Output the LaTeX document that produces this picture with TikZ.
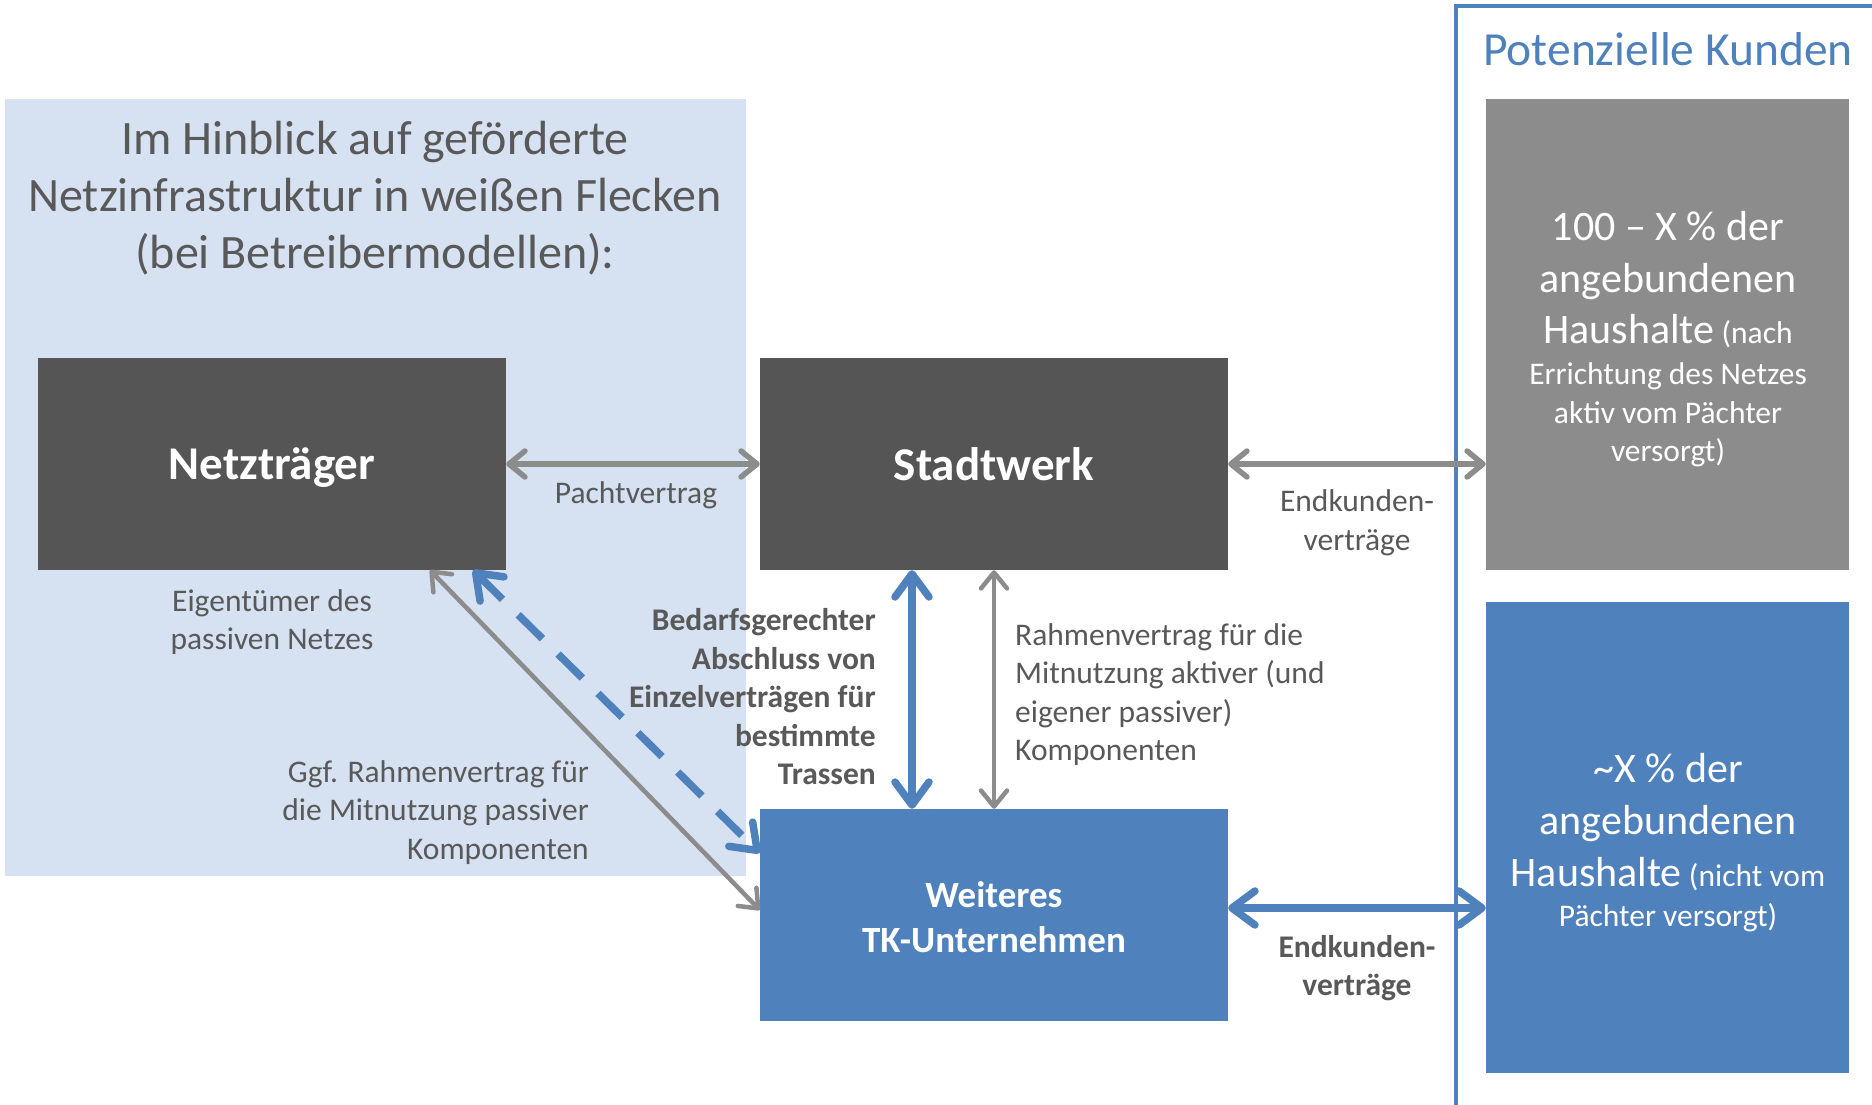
\documentclass[tikz,border=0pt]{standalone}
\usepackage{fontspec}
\setmainfont{Carlito}
\usetikzlibrary{arrows.meta}

\definecolor{panel}{HTML}{D6E1F1}
\definecolor{darkbox}{HTML}{555555}
\definecolor{greybox}{HTML}{8C8C8C}
\definecolor{accent}{HTML}{4F81BD}
\definecolor{txt}{HTML}{595959}
\definecolor{arrowgrey}{HTML}{8C8C8C}

\tikzset{
  box/.style={rectangle, inner sep=0pt, minimum width=468pt, minimum height=212pt,
    text=white, align=center},
  tallbox/.style={rectangle, inner sep=0pt, minimum width=363pt, minimum height=471pt},
  lbl/.style={inner sep=0pt, text=txt, font=\fontsize{31.5}{38.5}\selectfont},
  lblbold/.style={inner sep=0pt, text=txt, font=\bfseries\fontsize{31.5}{38.5}\selectfont},
  bigtext/.style={inner sep=0pt, text=white, align=center,
    font=\fontsize{31.5}{38.5}\selectfont},
  garrow/.style={arrowgrey, line width=5.5pt,
    >={Straight Barb[length=16pt,width=26pt,line cap=round,line join=round]}, <->},
  gthin/.style={garrow, line width=4.5pt},
  barrow/.style={accent, line width=7.5pt,
    >={Straight Barb[length=23pt,width=34pt,line cap=round,line join=round]}, <->},
}
\newcommand{\bigline}{\fontsize{42}{51}\selectfont}

\begin{document}
\lineskiplimit=-1000pt
\begin{tikzpicture}[x=1pt,y=-1pt]
\useasboundingbox (0,0) rectangle (1872,1105);
\fill[white] (0,0) rectangle (1872,1105);

% shaded area on the left
\node[fill=panel, inner sep=0pt, minimum width=741pt, minimum height=777pt] (panel) at (375.5,487.5) {};
\node[inner sep=0pt, text=txt, align=center, font=\fontsize{48}{57}\selectfont] (title) at (375,198.5)
  {Im Hinblick auf geförderte\\Netzinfrastruktur in weißen Flecken\\(bei Betreibermodellen):};

% customer frame on the right
\draw[accent, line width=4pt] (1456,1110) -- (1456,6) -- (1880,6);
\node[inner sep=0pt, text=accent, font=\fontsize{47.5}{57}\selectfont] (kunden) at (1668,49) {Potenzielle Kunden};

% main boxes
\node[box, fill=darkbox, text depth=0pt, font=\bfseries\fontsize{47}{56}\selectfont] (nt) at (272,464) {Netzträger};
\node[box, fill=darkbox, text depth=0pt, font=\bfseries\fontsize{47}{56}\selectfont] (sw) at (994,464) {Stadtwerk};
\node[box, fill=accent] (tk) at (994,915) {};
\node[inner sep=0pt, text=white, align=center, font=\bfseries\fontsize{37}{45}\selectfont] (tktext) at (994,917.5) {Weiteres\\TK-Unternehmen};

\node[tallbox, fill=greybox] (gb) at (1667.5,334.5) {};
\node[tallbox, fill=accent] (kb) at (1667.5,837) {};

\node[bigtext] (gtext) at (1668,339.5)
  {{\bigline 100 – X \% der}\\[13pt]
   {\bigline angebundenen}\\[13pt]
   {\bigline Haushalte} (nach\\[2.5pt]
   Errichtung des Netzes\\
   aktiv vom Pächter\\
   versorgt)};
\node[bigtext] (ktext) at (1668,842.5)
  {{\bigline \textasciitilde X \% der}\\[13.5pt]
   {\bigline angebundenen}\\[14pt]
   {\bigline Haushalte} (nicht vom\\[1.5pt]
   Pächter versorgt)};

% connectors
\draw[garrow] (nt.east) -- (sw.west);
\draw[garrow] (sw.east) -- (sw.east -| gb.west);
\draw[gthin] (sw.south) -- (tk.north);
\draw[barrow] ([xshift=-82pt]sw.south) -- ([xshift=-82pt]tk.north);
\draw[barrow] ([yshift=7pt]tk.east) -- ([yshift=7pt]tk.east -| kb.west);
\draw[gthin] ([xshift=158pt]nt.south) -- ([yshift=5pt]tk.west);
\draw[barrow, dash pattern=on 34pt off 22pt] ([xshift=201pt]nt.south) -- ([yshift=62pt]tk.west);

% labels
\node[lbl] (pacht) at (636,495.5) {Pachtvertrag};
\node[lbl, align=center] (eig) at (272,622) {Eigentümer des\\passiven Netzes};
\node[lblbold, align=right, anchor=east] (bed) at (876,697) 
  {Bedarfsgerechter\\Abschluss von\\Einzelverträgen für\\bestimmte\\Trassen};
\node[lbl, align=left, anchor=west] (rahmen) at (1015,694.5)
  {Rahmenvertrag für die\\Mitnutzung aktiver (und\\eigener passiver)\\Komponenten};
\node[lbl, align=right, anchor=east] (ggf) at (589,812.5)
  {Ggf. Rahmenvertrag für\\die Mitnutzung passiver\\Komponenten};
\node[lbl, align=center] (ek1) at (1357,523) {Endkunden-\\verträge};
\node[lblbold, align=center] (ek2) at (1357,968) {Endkunden-\\verträge};
\end{tikzpicture}
\end{document}
